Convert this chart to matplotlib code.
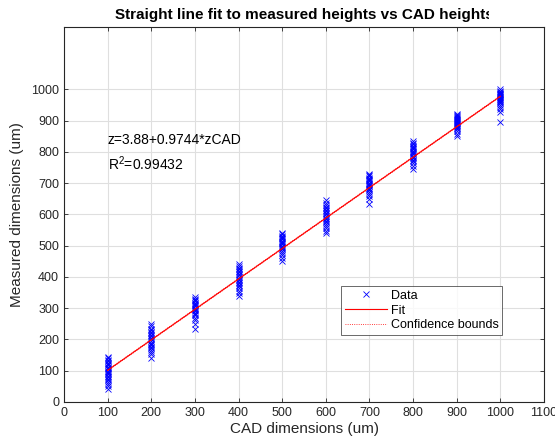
import numpy as np
import matplotlib.pyplot as plt
from matplotlib.transforms import Bbox

plt.rcParams['font.family'] = ['Liberation Sans', 'DejaVu Sans']

# CAD heights (um) and the measured heights at each of them (um)
cad = [100, 200, 300, 400, 500, 600, 700, 800, 900, 1000]
measured = [
    [145, 140, 135, 130, 126, 122, 118, 113, 108, 104, 100, 96, 92, 88, 84, 80, 75, 70, 64, 58, 50, 42],
    [250, 242, 235, 230, 225, 220, 215, 210, 205, 200, 195, 190, 186, 182, 177, 172, 166, 160, 152, 140],
    [335, 330, 326, 322, 318, 314, 310, 306, 302, 298, 294, 290, 286, 282, 277, 270, 262, 250, 235],
    [440, 435, 430, 425, 420, 415, 410, 405, 400, 395, 390, 385, 380, 375, 370, 364, 356, 348, 340],
    [540, 536, 532, 528, 524, 520, 516, 512, 508, 504, 500, 496, 492, 488, 484, 478, 470, 460, 450],
    [645, 636, 630, 625, 620, 615, 610, 605, 600, 595, 590, 585, 580, 575, 570, 563, 556, 548, 540],
    [730, 726, 722, 718, 714, 710, 706, 702, 698, 694, 690, 686, 682, 678, 672, 666, 658, 648, 635],
    [835, 828, 824, 820, 816, 812, 808, 804, 800, 796, 792, 788, 784, 780, 775, 770, 764, 756, 745],
    [920, 917, 914, 911, 908, 905, 902, 899, 896, 893, 890, 887, 884, 880, 876, 872, 866, 858, 850],
    [1000, 996, 993, 990, 987, 984, 981, 978, 975, 972, 969, 966, 963, 960, 956, 950, 944, 936, 928, 895],
]
intercept = 3.88
slope = 0.9744
r2 = 0.99432

xs = np.concatenate([[c] * len(m) for c, m in zip(cad, measured)])
ys = np.concatenate(measured)

fig = plt.figure(figsize=(5.55, 4.46), dpi=100)
ax = fig.add_axes([0.1153, 0.0987, 0.8649, 0.8408])

grey = '#262626'
xfit = np.linspace(cad[0], cad[-1], 200)
zfit = intercept + slope * xfit
ax.plot(xs, ys, 'x', color='blue', ms=5, mew=0.6, label='Data', zorder=3)
ax.plot(xfit, zfit, '-', color='red', lw=0.8, label='Fit', zorder=4)
ax.plot(xfit, zfit + 1.5, ':', color='red', lw=0.6, label='Confidence bounds', zorder=4)
ax.plot(xfit, zfit - 1.5, ':', color='red', lw=0.6, zorder=4)

ax.set_xlim(0, 1100)
ax.set_ylim(0, 1200)
ax.set_xticks(np.arange(0, 1101, 100))
ax.set_yticks(np.arange(0, 1001, 100))
ax.grid(True, color='#dfdfdf', lw=0.8)
ax.set_axisbelow(True)
ax.tick_params(direction='in', length=3, labelsize=9, colors=grey,
               top=True, right=True, width=0.6)
for s in ax.spines.values():
    s.set_color(grey)
    s.set_linewidth(0.8)

ax.text(100, 837, 'z=3.88+0.9744*zCAD', fontsize=10, va='center', color='black')
ax.text(100, 763, '$\\mathregular{R^2}$=%.5f' % r2, fontsize=10, va='center', color='black')

ax.set_xlabel('CAD dimensions (um)', fontsize=11, color=grey, labelpad=2)
ylab = ax.set_ylabel('Measured dimensions (um)', fontsize=11, color=grey, labelpad=5)
ttl = ax.set_title('Straight line fit to measured heights vs CAD heights',
                   fontsize=11, fontweight='bold', pad=6)

# clip the title on the right and the y label at its top end
ttl.set_clip_box(Bbox([[0, 0], [489, 446]]))
ttl.set_clip_on(True)
ylab.set_clip_box(Bbox([[0, 0], [555, 446 - 124]]))
ylab.set_clip_on(True)

leg = ax.legend(loc='upper left', bbox_to_anchor=(0.577, 0.309, 0.335, 0.0),
                mode='expand', fontsize=9, frameon=True, fancybox=False,
                borderpad=0.3, labelspacing=0.22, handlelength=3.4,
                handletextpad=0.3, borderaxespad=0)
leg.get_frame().set_edgecolor(grey)
leg.get_frame().set_linewidth(0.6)

fig.savefig('out.png', dpi=100)
